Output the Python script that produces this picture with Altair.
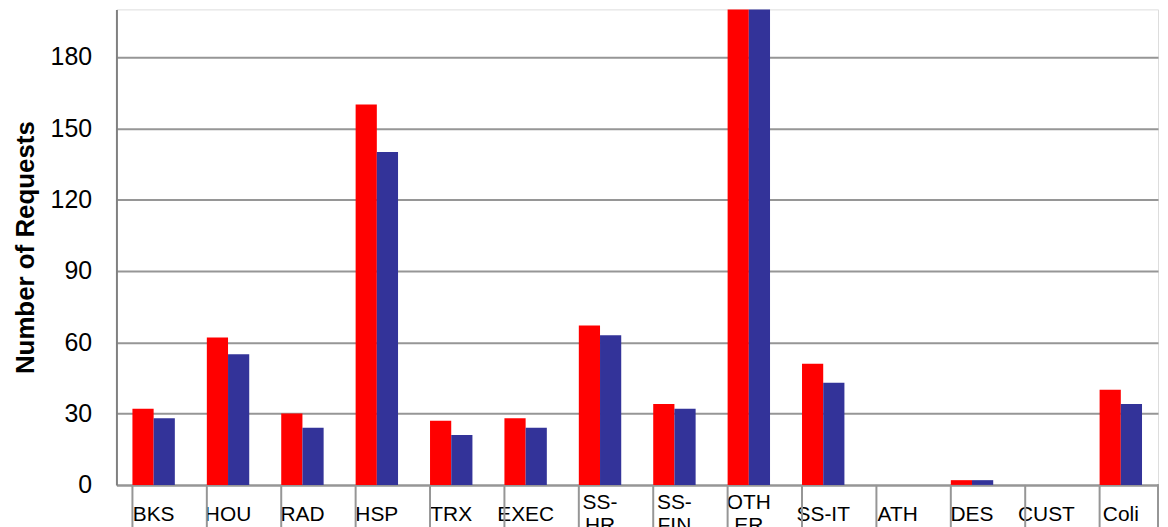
import altair as alt
import pandas as pd

categories = ["BKS", "HOU", "RAD", "HSP", "TRX", "EXEC", "SS-\nHR", "SS-\nFIN",
              "OTH\nER", "SS-IT", "ATH", "DES", "CUST", "Coli"]
series_names = ["Series 1", "Series 2"]
series1 = [32, 62, 30, 160, 27, 28, 67, 34, 240, 51, 0, 2, 0, 40]
series2 = [28, 55, 24, 140, 21, 24, 63, 32, 235, 43, 0, 2, 0, 34]
y_ticks = [0, 30, 60, 90, 120, 150, 180]
colors = ["#FF0000", "#333399"]

rows = []
for c, a, b in zip(categories, series1, series2):
    rows.append({"cat": c, "series": series_names[0], "value": a})
    rows.append({"cat": c, "series": series_names[1], "value": b})
df = pd.DataFrame(rows)
df_cat = pd.DataFrame({"cat": categories})

W, H = 1047, 478
FONT = "Liberation Sans"
GRID = "#969696"

xscale = alt.Scale(paddingInner=0.43, paddingOuter=0.215)

bars = alt.Chart(df).mark_bar(clip=True).encode(
    x=alt.X("cat:N", sort=categories, scale=xscale,
            axis=alt.Axis(title=None, ticks=False, domainColor=GRID, domainWidth=2,
                          labelFontSize=21, labelFont=FONT, labelColor="#000000",
                          labelAngle=0, labelPadding=18,
                          labelBaseline={"condition": {"test": "indexof(datum.label, '\\n') >= 0",
                                                       "value": "middle"},
                                         "value": "line-top"},
                          labelOverlap=False, labelLimit=0, labelLineHeight=23,
                          labelExpr="split(datum.label, '\\n')")),
    xOffset=alt.XOffset("series:N", sort=series_names),
    y=alt.Y("value:Q", scale=alt.Scale(domain=[0, 200], nice=False),
            axis=alt.Axis(values=y_ticks, title="Number of Requests", ticks=False,
                          grid=True, gridColor=GRID, gridWidth=2,
                          domainColor="#808080", domainWidth=2,
                          labelFontSize=25, labelFont=FONT, labelColor="#000000",
                          labelPadding=25,
                          titleFont=FONT, titleFontSize=26, titleFontWeight="bold",
                          titleColor="#000000", titleX=-91, titleY=H / 2,
                          titleAngle=-90, titleAlign="center", titleBaseline="middle")),
    color=alt.Color("series:N", sort=series_names,
                    scale=alt.Scale(domain=series_names, range=colors), legend=None),
)

dividers = alt.Chart(df_cat).mark_rule(color=GRID, strokeWidth=2).encode(
    x=alt.X("cat:N", sort=categories, bandPosition=0),
    y=alt.value(H),
    y2=alt.value(H + 55),
)

right_div = alt.Chart(df_cat).mark_rule(color=GRID, strokeWidth=2).encode(
    x=alt.value(W),
    y=alt.value(H),
    y2=alt.value(H + 55),
)

chart = alt.layer(bars, dividers, right_div).properties(
    width=W, height=H,
    autosize=alt.AutoSizeParams(type="none"),
    padding={"left": 109, "top": 0, "right": 2, "bottom": 60},
).configure_view(stroke=None).configure(background="#ffffff")

chart.save("out.html", embed_options={"renderer": "svg", "actions": False})
